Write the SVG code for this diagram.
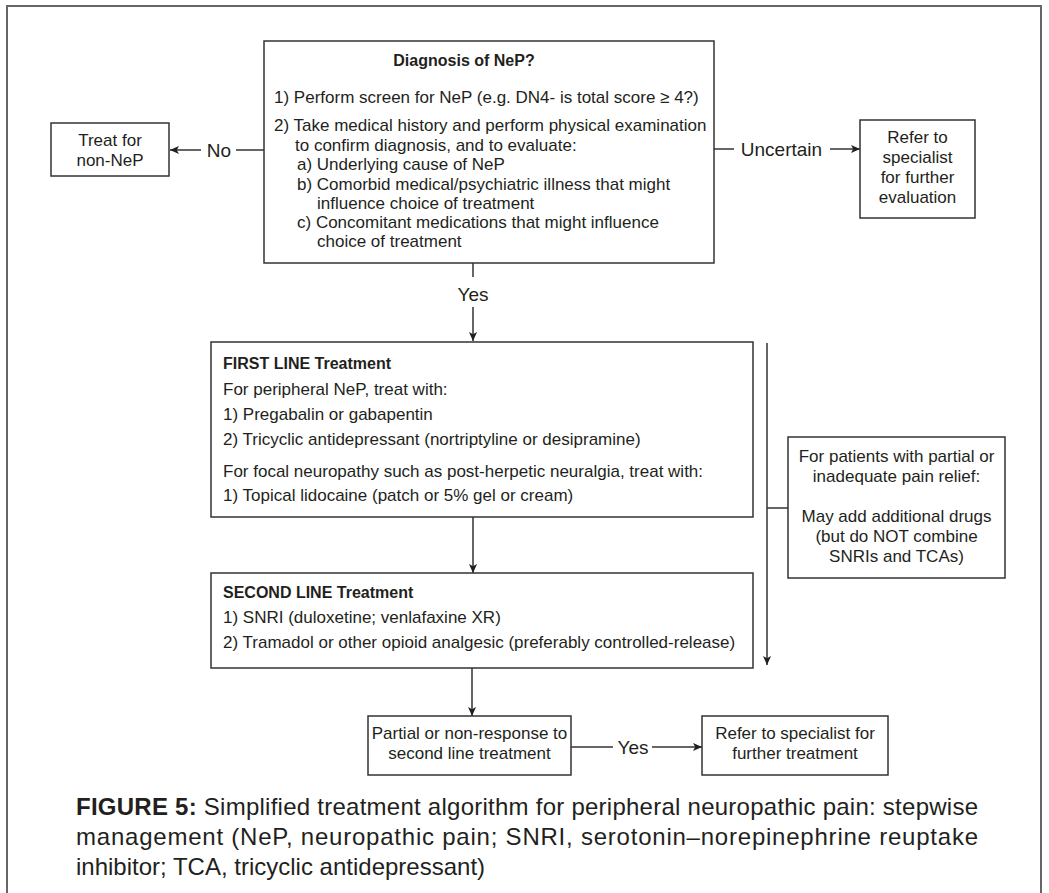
<svg xmlns="http://www.w3.org/2000/svg" width="1049" height="893" viewBox="0 0 1049 893">
<style>
text{font-family:"Liberation Sans",Arial,sans-serif;fill:#231f20}
.t{font-size:17px}
.b{font-size:16px;font-weight:bold}
.c{text-anchor:middle}
.lab{font-size:19px}
.box{fill:#fff;stroke:#333;stroke-width:1.5}
.ln{fill:none;stroke:#333;stroke-width:1.5}
.cap{font-size:24px}
</style>
<defs>
<marker id="ah" viewBox="0 0 10 10" refX="10" refY="5" markerWidth="11" markerHeight="9" markerUnits="userSpaceOnUse" orient="auto">
<path d="M0,0.5 L10,5 L0,9.5 L2.5,5 z" fill="#231f20"/>
</marker>
</defs>
<rect x="7" y="6" width="1034" height="900" fill="#fff" stroke="#666" stroke-width="2"/>

<g id="connectors">
<path class="ln" d="M264,150 H236"/>
<path class="ln" d="M201,150 H170" marker-end="url(#ah)"/>
<text class="lab c" x="219" y="157">No</text>
<path class="ln" d="M714,149 H734"/>
<path class="ln" d="M830,149 H860" marker-end="url(#ah)"/>
<text class="lab c" x="781.5" y="156">Uncertain</text>
<path class="ln" d="M473,263 V277"/>
<path class="ln" d="M473,307 V341" marker-end="url(#ah)"/>
<text class="lab c" x="473" y="301">Yes</text>
<path class="ln" d="M473,517 V573" marker-end="url(#ah)"/>
<path class="ln" d="M472,668 V716" marker-end="url(#ah)"/>
<path class="ln" d="M571,747 H613"/>
<path class="ln" d="M652,747 H702" marker-end="url(#ah)"/>
<text class="lab c" x="633" y="754">Yes</text>
<path class="ln" d="M767,343 V665" marker-end="url(#ah)"/>
<path class="ln" d="M767,508 H788"/>
</g>

<g id="diagnosis">
<rect class="box" x="264" y="41" width="450" height="222"/>
<text class="b c" x="464" y="66">Diagnosis of NeP?</text>
<text class="t" x="274" y="103">1) Perform screen for NeP (e.g. DN4- is total score ≥ 4?)</text>
<text class="t" x="274" y="131">2) Take medical history and perform physical examination</text>
<text class="t" x="295" y="151">to confirm diagnosis, and to evaluate:</text>
<text class="t" x="297" y="170">a) Underlying cause of NeP</text>
<text class="t" x="297" y="190">b) Comorbid medical/psychiatric illness that might</text>
<text class="t" x="317" y="209">influence choice of treatment</text>
<text class="t" x="297" y="228">c) Concomitant medications that might influence</text>
<text class="t" x="317" y="247">choice of treatment</text>
</g>

<g id="treat-non-nep">
<rect class="box" x="51" y="123" width="118" height="53"/>
<text class="t c" x="110" y="146">Treat for</text>
<text class="t c" x="110" y="166">non-NeP</text>
</g>

<g id="refer-evaluation">
<rect class="box" x="860" y="120" width="115" height="98"/>
<text class="t c" x="917.5" y="143">Refer to</text>
<text class="t c" x="917.5" y="163">specialist</text>
<text class="t c" x="917.5" y="183">for further</text>
<text class="t c" x="917.5" y="203">evaluation</text>
</g>

<g id="first-line">
<rect class="box" x="211" y="342" width="542" height="175"/>
<text class="b" x="223" y="369">FIRST LINE Treatment</text>
<text class="t" x="223" y="395">For peripheral NeP, treat with:</text>
<text class="t" x="223" y="420">1) Pregabalin or gabapentin</text>
<text class="t" x="223" y="445">2) Tricyclic antidepressant (nortriptyline or desipramine)</text>
<text class="t" x="223" y="477">For focal neuropathy such as post-herpetic neuralgia, treat with:</text>
<text class="t" x="223" y="501">1) Topical lidocaine (patch or 5% gel or cream)</text>
</g>

<g id="partial-relief">
<rect class="box" x="788" y="437" width="217" height="141"/>
<text class="t c" x="896.5" y="462">For patients with partial or</text>
<text class="t c" x="896.5" y="482">inadequate pain relief:</text>
<text class="t c" x="896.5" y="522">May add additional drugs</text>
<text class="t c" x="896.5" y="542">(but do NOT combine</text>
<text class="t c" x="896.5" y="562">SNRIs and TCAs)</text>
</g>

<g id="second-line">
<rect class="box" x="211" y="573" width="542" height="95"/>
<text class="b" x="223" y="598">SECOND LINE Treatment</text>
<text class="t" x="223" y="623">1) SNRI (duloxetine; venlafaxine XR)</text>
<text class="t" x="223" y="648">2) Tramadol or other opioid analgesic (preferably controlled-release)</text>
</g>

<g id="non-response">
<rect class="box" x="368" y="716" width="203" height="59"/>
<text class="t c" x="469.5" y="739">Partial or non-response to</text>
<text class="t c" x="469.5" y="759">second line treatment</text>
</g>

<g id="refer-treatment">
<rect class="box" x="702" y="716" width="186" height="59"/>
<text class="t c" x="795" y="739">Refer to specialist for</text>
<text class="t c" x="795" y="759">further treatment</text>
</g>

<g id="caption">
<text class="cap" x="76" y="815" textLength="902" lengthAdjust="spacing"><tspan font-weight="bold">FIGURE 5:</tspan> Simplified treatment algorithm for peripheral neuropathic pain: stepwise</text>
<text class="cap" x="76" y="845" textLength="902" lengthAdjust="spacing">management (NeP, neuropathic pain; SNRI, serotonin–norepinephrine reuptake</text>
<text class="cap" x="76" y="875">inhibitor; TCA, tricyclic antidepressant)</text>
</g>
</svg>
